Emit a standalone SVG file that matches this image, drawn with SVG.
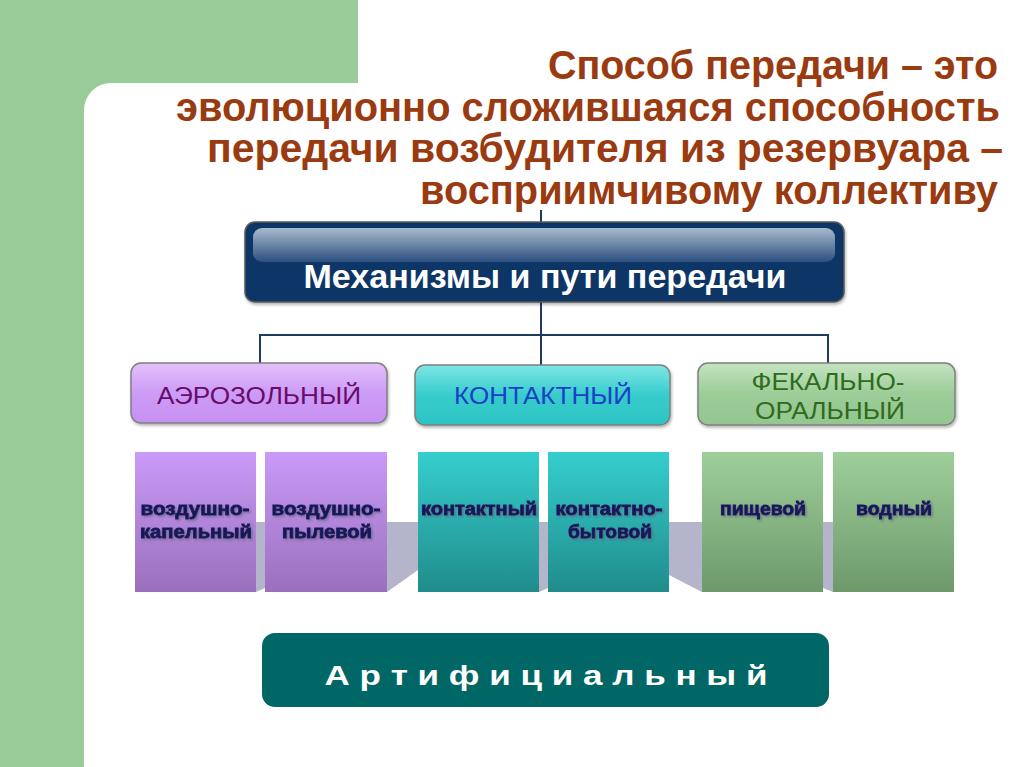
<svg xmlns="http://www.w3.org/2000/svg" width="1024" height="767" viewBox="0 0 1024 767">
<defs>
<style>
.title{font-family:"Liberation Sans",Arial,sans-serif;font-weight:bold;font-size:40px;fill:#9a3a10;}
.conn{stroke:#1f3a60;stroke-width:2;fill:none;}
.cat{font-family:"Liberation Sans",Arial,sans-serif;font-size:24px;text-anchor:middle;}
.cbox{stroke:#7f8080;stroke-width:1.5;}
.sub{font-family:"Liberation Sans",Arial,sans-serif;font-weight:bold;font-size:18px;fill:#16165e;stroke:#16165e;stroke-width:0.8;text-anchor:middle;filter:url(#sh);}
.band{fill:#b4b4ca;}
</style>
<linearGradient id="gPurCat" x1="0" y1="0" x2="0" y2="1"><stop offset="0" stop-color="#e4c0fc"/><stop offset="0.5" stop-color="#cc9cf6"/><stop offset="1" stop-color="#c690f0"/></linearGradient>
<linearGradient id="gTealCat" x1="0" y1="0" x2="0" y2="1"><stop offset="0" stop-color="#7ee6e6"/><stop offset="0.5" stop-color="#38cccc"/><stop offset="1" stop-color="#2cc4c4"/></linearGradient>
<linearGradient id="gGrnCat" x1="0" y1="0" x2="0" y2="1"><stop offset="0" stop-color="#c4e4c0"/><stop offset="0.5" stop-color="#9ccc98"/><stop offset="1" stop-color="#94c690"/></linearGradient>
<linearGradient id="gPur" x1="0" y1="0" x2="0" y2="1"><stop offset="0" stop-color="#c99af8"/><stop offset="1" stop-color="#9a70bc"/></linearGradient>
<linearGradient id="gTeal" x1="0" y1="0" x2="0" y2="1"><stop offset="0" stop-color="#36cece"/><stop offset="1" stop-color="#208c8c"/></linearGradient>
<linearGradient id="gGrn" x1="0" y1="0" x2="0" y2="1"><stop offset="0" stop-color="#9ecf9a"/><stop offset="1" stop-color="#6d996b"/></linearGradient>
<linearGradient id="gGloss" x1="0" y1="0" x2="0" y2="1"><stop offset="0" stop-color="#a8bacc"/><stop offset="1" stop-color="#2c5080"/></linearGradient>
<filter id="sh" x="-10%" y="-30%" width="130%" height="160%"><feDropShadow dx="1.5" dy="1.5" stdDeviation="0.8" flood-color="#606070" flood-opacity="0.7"/></filter>
<filter id="bsh" x="-5%" y="-10%" width="110%" height="130%"><feDropShadow dx="1" dy="2" stdDeviation="1.5" flood-color="#000" flood-opacity="0.3"/></filter>
</defs>
<rect width="1024" height="767" fill="#ffffff"/>
<path d="M0,0 H358 V83 H111 A27,27 0 0 0 84,110 V767 H0 Z" fill="#99cc99"/>
<g id="title" xml:space="preserve">
<text class="title" x="998" y="79" text-anchor="end" textLength="450" lengthAdjust="spacingAndGlyphs">Способ передачи – это</text>
<text class="title" x="1000" y="121" text-anchor="end" textLength="824" lengthAdjust="spacingAndGlyphs">эволюционно сложившаяся способность</text>
<text class="title" x="1003" y="162" text-anchor="end" textLength="796" lengthAdjust="spacingAndGlyphs">передачи  возбудителя из резервуара –</text>
<text class="title" x="998" y="204" text-anchor="end" textLength="578" lengthAdjust="spacingAndGlyphs">восприимчивому коллективу</text>
</g>
<g id="connectors">
<line class="conn" x1="541" y1="210" x2="541" y2="222"/>
<line class="conn" x1="541" y1="302" x2="541" y2="365"/>
<polyline class="conn" points="260,363 260,335 828,335 828,363"/>
</g>
<g id="band">
<polygon class="band" points="256,522 265,522 265,588 256,592"/>
<polygon class="band" points="387,522 418,522 418,570 387,592"/>
<polygon class="band" points="539,522 548,522 548,588 539,592"/>
<polygon class="band" points="669,522 702,522 702,592 669,575"/>
<polygon class="band" points="823,522 833,522 833,592 823,588"/>
</g>
<g id="main">
<rect x="245" y="222" width="599" height="80" rx="10" fill="#0e3466" stroke="#5a5a5a" stroke-width="1.5" filter="url(#bsh)"/>
<rect x="253" y="228" width="582" height="34" rx="9" fill="url(#gGloss)"/>
<text x="545" y="288" font-family="Liberation Sans, Arial, sans-serif" font-weight="bold" font-size="34" fill="#ffffff" text-anchor="middle" textLength="483" lengthAdjust="spacingAndGlyphs">Механизмы и пути передачи</text>
</g>
<g id="cat-aerosol">
<rect class="cbox" x="131" y="363" width="256" height="60" rx="10" fill="url(#gPurCat)" filter="url(#bsh)"/>
<text class="cat" x="259" y="404" fill="#6a0a6a" textLength="204" lengthAdjust="spacingAndGlyphs">АЭРОЗОЛЬНЫЙ</text>
</g>
<g id="cat-contact">
<rect class="cbox" x="415" y="365" width="255" height="60" rx="10" fill="url(#gTealCat)" filter="url(#bsh)"/>
<text class="cat" x="543" y="404" fill="#1a40c8" textLength="178" lengthAdjust="spacingAndGlyphs">КОНТАКТНЫЙ</text>
</g>
<g id="cat-fecal">
<rect class="cbox" x="698" y="363" width="257" height="62" rx="10" fill="url(#gGrnCat)" filter="url(#bsh)"/>
<text class="cat" x="828" y="390" fill="#2e6b1a" textLength="153" lengthAdjust="spacingAndGlyphs">ФЕКАЛЬНО-</text>
<text class="cat" x="830" y="419" fill="#2e6b1a" textLength="150" lengthAdjust="spacingAndGlyphs">ОРАЛЬНЫЙ</text>
</g>
<g id="sub-1">
<rect x="135" y="452" width="121" height="140" fill="url(#gPur)"/>
<text class="sub" x="195" y="515" textLength="109" lengthAdjust="spacingAndGlyphs">воздушно-</text>
<text class="sub" x="196" y="538" textLength="112" lengthAdjust="spacingAndGlyphs">капельный</text>
</g>
<g id="sub-2">
<rect x="265" y="452" width="122" height="140" fill="url(#gPur)"/>
<text class="sub" x="326" y="515" textLength="109" lengthAdjust="spacingAndGlyphs">воздушно-</text>
<text class="sub" x="327" y="538" textLength="90" lengthAdjust="spacingAndGlyphs">пылевой</text>
</g>
<g id="sub-3">
<rect x="418" y="452" width="121" height="140" fill="url(#gTeal)"/>
<text class="sub" x="479" y="515" textLength="116" lengthAdjust="spacingAndGlyphs">контактный</text>
</g>
<g id="sub-4">
<rect x="548" y="452" width="121" height="140" fill="url(#gTeal)"/>
<text class="sub" x="609" y="515" textLength="107" lengthAdjust="spacingAndGlyphs">контактно-</text>
<text class="sub" x="610" y="538" textLength="84" lengthAdjust="spacingAndGlyphs">бытовой</text>
</g>
<g id="sub-5">
<rect x="702" y="452" width="121" height="140" fill="url(#gGrn)"/>
<text class="sub" x="763" y="515" textLength="86" lengthAdjust="spacingAndGlyphs">пищевой</text>
</g>
<g id="sub-6">
<rect x="833" y="452" width="121" height="140" fill="url(#gGrn)"/>
<text class="sub" x="894" y="515" textLength="76" lengthAdjust="spacingAndGlyphs">водный</text>
</g>
<g id="artificial">
<rect x="262" y="633" width="567" height="74" rx="13" fill="#006666"/>
<text x="546" y="685" font-family="Liberation Sans, Arial, sans-serif" font-weight="bold" font-size="28" fill="#ffffff" text-anchor="middle" textLength="443" lengthAdjust="spacingAndGlyphs">А р т и ф и ц и а л ь н ы й</text>
</g>
</svg>
